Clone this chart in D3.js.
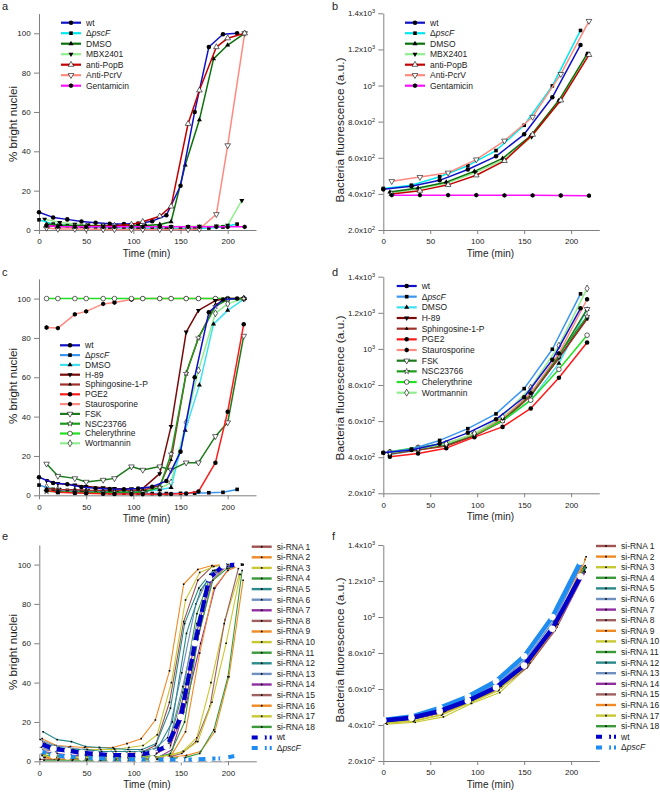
<!DOCTYPE html>
<html><head><meta charset="utf-8">
<script src="https://cdn.jsdelivr.net/npm/d3@7"></script>
<style>
body{margin:0;background:#fff}
svg text{font-family:"Liberation Sans",Arial,sans-serif;fill:#222}
</style></head>
<body><svg id="chart" width="660" height="793"></svg>
<script>
// ---------------- DATA ----------------
const X_TICKS = [0,50,100,150,200];
const PCT_TICKS = [0,20,40,60,80,100];
const FL_TICKS = [200,400,600,800,1000,1200,1400];
const FL_LABELS = [["2.0x10","2"],["4.0x10","2"],["6.0x10","2"],["8.0x10","2"],["10","3"],["1.2x10","3"],["1.4x10","3"]];

const T15 = [0,15,30,45,60,75,90,105,120,135,150,165,180,195,210];
const T30 = [0,30,60,90,120,150,180,210];

// Panel a (% bright nuclei)
const aNames = ["wt","ΔpscF","DMSO","MBX2401","anti-PopB","Anti-PcrV","Gentamicin"];
const aColors = ["#1010c8","#00e8f0","#0c700c","#90ee90","#c40000","#ff8a80","#ff10ff"];
const aMarkers = ["circle","square","tri","triDown","oTri","oTriDown","hex"];
const aT_dmso = [8,23,38,53,68,83,98,113,128,140,155,170,185,200,218];
const aT_mbx  = [6,22,38,52,68,82,98,112,128,140,158,170,188,200,215];
const aT_drug = [8,20,38,50,68,80,98,110,128,140,158,170,188,200,218];
const aV_wt   = [9,6.4,5.4,4.3,3.7,3.2,3.1,3.3,4.5,7.5,22.5,60,93,99.5,100];
const aV_pscF = [5.2,3,2.2,1.8,1.4,1.2,1,1,0.9,0.8,0.8,0.8,1,1.5,3];
const aV_dmso = [3,2.5,2.3,2.2,2.1,2,2,2.3,2.8,4.2,33,56,87,94,100];
const aV_mbx  = [5.5,3.8,3,2.6,2.3,2.1,2,2,1.9,1.8,1.8,1.9,2,2.5,15];
const aV_popb = [2,1.8,1.7,1.8,2,2.2,2.8,4.2,7,12,54,71,93,97.5,100];
const aV_pcrv = [1,0.5,0.5,0.5,0.3,0.3,0.3,0.3,0.3,0.3,0.3,0.5,8,43,100];
const aV_gent = [2.2,1.8,1.7,1.6,1.6,1.6,1.6,1.6,1.6,1.6,1.6,1.6,1.6,1.6,1.6];

// Panel b (bacteria fluorescence)
const bT_dmso = [7,37,67,97,127,157,187,217];
const bT_mbx  = [8,38,68,98,128,158,188,218];
const bT_drug = [9,39,69,99,129,159,189,219];
const bV_wt   = [425,442,475,535,608,730,935,1225];
const bV_pscF = [430,448,495,556,640,780,998,1305];
const bV_dmso = [410,432,465,525,597,722,918,1175];
const bV_mbx  = [405,428,460,518,588,716,915,1178];
const bV_popb = [400,418,450,503,583,728,918,1170];
const bV_pcrv = [470,493,517,590,694,826,1063,1357];
const bV_gent = [393,393,393,393,392,392,391,390];

// Panel c
const cNames = ["wt","ΔpscF","DMSO","H-89","Sphingosine-1-P","PGE2","Staurosporine","FSK","NSC23766","Chelerythrine","Wortmannin"];
const cColors = ["#1010c8","#3a96f0","#40e0f0","#7a0a0a","#a0302a","#ff1a1a","#ff8a80","#1e7a1e","#1c9a1c","#22e022","#90ee90"];
const cMarkers = ["circle","square","tri","triDown","smallTri","circle","hex","oTriDown","star","oCircle","oDiamond"];
const cT_dmso = [8,23,38,53,68,83,98,113,128,140,155,170,185,200,218];
const cT_drug = [8,20,38,50,68,80,98,110,128,140,156,169,187,200,217];
const cV_wt   = [9.2,6.3,5.6,4.2,3.6,3.2,3.1,3.4,4.4,7.3,22.2,60,93,99.5,100];
const cV_pscF = [5.2,3,2.5,2,1.6,1.3,1.1,1,0.9,0.9,1,1.1,1.3,1.5,3];
const cV_dmso = [3,2.6,2.4,2.2,2.1,2,2,2.2,2.8,4,33,56,87,94,100];
const cV_h89  = [7.5,6,5.2,4.5,3.8,3.5,3.3,3.5,11,35,83,94,99,100,100];
const cV_s1p  = [3.5,3,2.8,2.6,2.5,2.4,2.4,2.6,5,18,62,80,97,99.5,100];
const cV_pge2 = [2.5,1.5,1.2,1,0.8,0.7,0.6,0.6,0.5,0.7,0.9,1.9,16.6,42.5,87];
const cV_stau = [85.3,85,92,93.5,97.3,98,99.5,100,100,100,100,100,100,100,100];
const cV_fsk  = [16,9.8,8.6,6.8,7.8,8.6,14.6,12.9,14.6,12.9,16.6,16.6,30,37,81];
const cV_nsc  = [2,1.8,1.6,1.5,1.5,1.5,1.5,1.6,4,21,62,80,96,99.5,100];
const cV_chel = [100,100,100,100,100,100,100,100,100,100,100,100,100,100,100];
const cV_wort = [4.2,3,2.5,2.2,2,2,2,2,3.5,6.5,37,63.5,92.5,97.3,100];

// Panel d
const dT_drug = [7,37,67,97,127,157,187,217];
const dV_wt   = [425,440,475,535,610,732,940,1225];
const dV_pscF = [425,445,493,558,640,780,998,1305];
const dV_dmso = [415,440,470,520,600,715,920,1220];
const dV_h89  = [420,445,465,520,605,745,950,1170];
const dV_s1p  = [418,440,462,518,600,740,950,1165];
const dV_pge2 = [402,420,450,511,568,670,840,1035];
const dV_stau = [425,450,475,530,615,755,975,1275];
const dV_fsk  = [422,445,470,525,610,748,962,1220];
const dV_nsc  = [425,448,472,528,612,752,968,1180];
const dV_chel = [430,455,478,525,602,716,887,1076];
const dV_wort = [425,448,475,532,625,785,1018,1335];

// Panels e & f (siRNA screen)
const siNames = ["si-RNA 1","si-RNA 2","si-RNA 3","si-RNA 4","si-RNA 5","si-RNA 6","si-RNA 7","si-RNA 8","si-RNA 9","si-RNA 10","si-RNA 11","si-RNA 12","si-RNA 13","si-RNA 14","si-RNA 15","si-RNA 16","si-RNA 17","si-RNA 18"];
const siColors = ["#9e5252","#f08a24","#c8c832","#3a9a3a","#2a8a8a","#6f8fc0","#9030a0","#a06060","#f08a24","#c8c832","#3a9a3a","#2a8a8a","#6f8fc0","#9030a0","#a06060","#f08a24","#c8c832","#3a9a3a"];
const eOffsets = [3,3,5,2,4,1,6,3,5,2,4,6,2,4,1,6,3,5];
const eSi = [
 [10,6.5,5.5,4.5,4,4,4,4.5,8,30,71,92,99,100,100],
 [11.5,8,7.5,7,7,7,9,11.5,21,46,90,97.5,99.5,100,100],
 [8,6,6,6,6,6,7,8,13.5,40,82,96,99,100,100],
 [5,3,3,2.5,2,2,2,2,3,8,35,75,95,99,100],
 [15,11,10,7.5,7,6.5,6,6,9,27,70,88,97,99,100],
 [11,8,7,6,5,5,5,5,6,12,45,80,95,99,100],
 [3,2,2,2,1.5,1.5,1.5,1.5,2,6,30,60,88,98,100],
 [6,5,5,4,4,3,3,3,4,7,25,62,92,99,100],
 [2,1,1,1,1,1,1,1,1.5,3,15,55,88,97,100],
 [4,2,2,2,2,2,2,2,2,3,5,12,40,72,95],
 [3,2,1.5,1.5,1.5,1.5,1.5,1.5,2,4,20,65,92,98,100],
 [9,7,6,6,5,5,5,5,7,20,65,87,97,99,100],
 [7,5,5,4,4,4,4,4,5,9,38,70,93,99,100],
 [5,4,3,3,3,3,3,3,4,8,35,70,95,99,100],
 [1,1,1,1,0.5,0.5,0.5,1,1,2,4,10,28,70,98],
 [2,1,1,1,1,1,1,1,1,2,3,5,15,43,92],
 [3,2,2,2,2,2,2,2,2,3,5,10,30,60,95],
 [0.5,0.5,0.5,0.5,0.5,0.5,0.5,0.5,1,1.5,2,4,16,43,97]
];
const eV_wt   = [9,6.4,5.4,4.3,3.7,3.2,3.1,3.3,4.5,7.5,22.5,60,93,99.5,100];
const eV_pscF = [5.3,3,2.4,2,1.6,1.3,1.1,1,1,0.9,0.9,1,1.3,1.5,3];
const fOffsets = [3,3,4,2,4,1,5,3,5,2,4,6,2,4,1,6,3,5];
const fSi = [
 [418,435,470,530,600,722,930,1240],
 [420,440,478,540,615,745,955,1300],
 [405,415,445,520,580,725,950,1255],
 [422,440,475,535,612,742,960,1260],
 [425,442,480,538,615,748,965,1265],
 [428,445,485,545,625,760,975,1290],
 [420,438,472,532,605,735,945,1250],
 [415,432,468,528,598,718,925,1245],
 [422,440,478,540,618,750,968,1320],
 [410,420,455,522,590,728,948,1260],
 [425,443,480,540,620,755,972,1280],
 [428,445,485,545,628,762,978,1275],
 [430,447,488,550,632,768,985,1300],
 [420,437,473,533,608,738,950,1255],
 [418,434,468,528,600,725,935,1250],
 [422,440,476,536,612,745,960,1335],
 [412,425,460,525,595,730,952,1270],
 [424,442,478,538,615,752,970,1285]
];
const fV_wt   = [425,440,477,535,608,730,935,1225];
const fV_pscF = [428,447,495,558,643,782,1000,1307];

// ---------------- DRAWING ----------------
const svg = d3.select("#chart");
const zip = (t,v) => t.map((d,i)=>[d,v[i]]);

const hexSym = { draw(ctx,size){ const r=Math.sqrt(size/2.598); for(let i=0;i<6;i++){const a=Math.PI/3*i+Math.PI/6; const px=r*Math.cos(a), py=r*Math.sin(a); i?ctx.lineTo(px,py):ctx.moveTo(px,py);} ctx.closePath(); } };

function marker(g,type,cx,cy){
  let shape=d3.symbolCircle,size=16,fill="#000",stroke="none",rot=0,sw=0.6;
  switch(type){
    case "circle": size=16; break;
    case "square": shape=d3.symbolSquare; size=13; break;
    case "tri": shape=d3.symbolTriangle; size=11; break;
    case "smallTri": shape=d3.symbolTriangle; size=6; break;
    case "triDown": shape=d3.symbolTriangle; size=11; rot=180; break;
    case "oTri": shape=d3.symbolTriangle; size=14; fill="#fff"; stroke="#000"; break;
    case "oTriDown": shape=d3.symbolTriangle; size=14; fill="#fff"; stroke="#000"; rot=180; break;
    case "hex": shape=hexSym; size=15; break;
    case "oCircle": size=17; fill="#fff"; stroke="#000"; break;
    case "oDiamond": shape=d3.symbolDiamond; size=14; fill="#fff"; stroke="#000"; break;
    case "star": shape=d3.symbolStar; size=10; fill="#fff"; stroke="#000"; sw=0.5; break;
    case "tinySq": shape=d3.symbolSquare; size=2.6; break;
    case "white": size=34; fill="#fff"; break;
  }
  g.append("path").attr("d",d3.symbol(shape,size)())
   .attr("transform",`translate(${cx},${cy}) rotate(${rot})`)
   .attr("fill",fill).attr("stroke",stroke).attr("stroke-width",sw);
}

function labelText(sel,name,size){
  const t = sel.append("text").attr("font-size",size).attr("dy","0.35em");
  if(name==="ΔpscF"){ t.append("tspan").text("Δ"); t.append("tspan").attr("font-style","italic").text("pscF"); }
  else t.text(name);
  return t;
}

function panel(cfg){
  const g = svg.append("g");
  const x = d3.scaleLinear().domain([0,230]).range([cfg.x0, cfg.x0+cfg.xw]);
  const y = d3.scaleLinear().domain(cfg.pct?[0,110]:[200,1400]).range([cfg.yBot, cfg.yTop]);
  const xa = g.append("g").attr("transform",`translate(0,${cfg.yBot})`)
    .call(d3.axisBottom(x).tickValues(X_TICKS).tickSize(4).tickSizeOuter(0).tickPadding(4.6));
  const yAx = d3.axisLeft(y).tickValues(cfg.pct?PCT_TICKS:FL_TICKS).tickSize(5).tickSizeOuter(0).tickPadding(3.3);
  const ya = g.append("g").attr("transform",`translate(${cfg.x0},0)`).call(yAx);
  [xa,ya].forEach(a=>{
    a.selectAll("path,line").attr("stroke","#808080");
    a.selectAll("text").attr("font-size",8).attr("font-family","Liberation Sans, Arial, sans-serif").attr("fill","#333");
  });
  if(!cfg.pct){
    ya.selectAll(".tick text").each(function(d){
      const t=d3.select(this); t.text("");
      const lab = FL_LABELS[FL_TICKS.indexOf(d)];
      t.append("tspan").text(lab[0]);
      t.append("tspan").attr("font-size",5.5).attr("dy","-0.55em").text(lab[1]);
    });
  }
  g.append("text").attr("x",cfg.x0+(x(200)-cfg.x0)*0.57).attr("y",cfg.yBot+26.7).attr("text-anchor","middle")
    .attr("font-size",10).text("Time (min)");
  g.append("text").attr("transform",`translate(${cfg.ytX},${cfg.ytY}) rotate(-90)`).attr("text-anchor","middle")
    .attr("font-size",10.5).attr("textLength",cfg.pct?76:145).attr("lengthAdjust","spacingAndGlyphs")
    .text(cfg.pct?"% bright nuclei":"Bacteria fluorescence (a.u.)");
  g.append("text").attr("x",cfg.lblX).attr("y",cfg.lblY).attr("font-size",11).text(cfg.label);

  const line = d3.line().x(d=>x(d[0])).y(d=>y(d[1]));
  cfg.series.forEach(s=>{
    const pts = zip(s.t,s.v);
    g.append("path").attr("d",line(pts)).attr("fill","none").attr("stroke",s.color)
      .attr("stroke-width",s.lw||1.5).attr("stroke-dasharray",s.dash||null).attr("stroke-linejoin","round");
    pts.forEach(p=>marker(g,s.marker,x(p[0]),y(p[1])));
  });
  const L = cfg.legend;
  cfg.series.slice().sort((a,b)=>a.li-b.li).forEach((s,i)=>{
    const yy = L.y + i*L.dy;
    g.append("line").attr("x1",L.x).attr("x2",L.x+20).attr("y1",yy).attr("y2",yy)
      .attr("stroke",s.color).attr("stroke-width",s.llw||2.2).attr("stroke-dasharray",s.ldash||null);
    marker(g,s.marker,L.x+10,yy);
    labelText(g,s.name,8.5).attr("x",L.x+25).attr("y",yy);
  });
}

// ---- Panel a
const aT = [T15,T15,aT_dmso,aT_mbx,aT_drug,aT_drug,aT_drug];
const aV = [aV_wt,aV_pscF,aV_dmso,aV_mbx,aV_popb,aV_pcrv,aV_gent];
const aOrder = [3,1,2,5,0,4,6];
const aSeries = aOrder.map(i=>({name:aNames[i],color:aColors[i],marker:aMarkers[i],t:aT[i],v:aV[i],li:i}));
panel({x0:39,xw:217,yBot:230,yTop:13.6,pct:true,label:"a",lblX:2,lblY:10,ytX:17,ytY:124,
  series:aSeries, legend:{x:61,y:22.7,dy:10.5}});

// ---- Panel b
const bT = [T30,T30,bT_dmso,bT_mbx,bT_drug,bT_drug,bT_drug];
const bV = [bV_wt,bV_pscF,bV_dmso,bV_mbx,bV_popb,bV_pcrv,bV_gent];
const bSeries = aOrder.map(i=>({name:aNames[i],color:aColors[i],marker:aMarkers[i],t:bT[i],v:bV[i],li:i}));
panel({x0:383.3,xw:216,yBot:230,yTop:13.3,pct:false,label:"b",lblX:332,lblY:10,ytX:344,ytY:130,
  series:bSeries, legend:{x:405,y:22.7,dy:10.5}});

// ---- Panel c
const cT = [T15,T15,cT_dmso,cT_drug,cT_drug,cT_drug,cT_drug,cT_drug,cT_drug,cT_drug,cT_drug];
const cV = [cV_wt,cV_pscF,cV_dmso,cV_h89,cV_s1p,cV_pge2,cV_stau,cV_fsk,cV_nsc,cV_chel,cV_wort];
const cOrder = [6,9,10,2,1,3,4,7,8,5,0];
const cSeries = cOrder.map(i=>({name:cNames[i],color:cColors[i],marker:cMarkers[i],t:cT[i],v:cV[i],li:i}));
panel({x0:39,xw:217,yBot:495.3,yTop:278.9,pct:true,label:"c",lblX:2,lblY:276,ytX:17,ytY:386,
  series:cSeries, legend:{x:60,y:345.3,dy:9.8}});

// ---- Panel d
const dT = [T30,T30,dT_drug,dT_drug,dT_drug,dT_drug,dT_drug,dT_drug,dT_drug,dT_drug,dT_drug];
const dV = [dV_wt,dV_pscF,dV_dmso,dV_h89,dV_s1p,dV_pge2,dV_stau,dV_fsk,dV_nsc,dV_chel,dV_wort];
const dOrder = [2,3,4,7,8,9,5,6,10,1,0];
const dSeries = dOrder.map(i=>({name:cNames[i],color:cColors[i],marker:cMarkers[i],t:dT[i],v:dV[i],li:i}));
panel({x0:383.3,xw:216,yBot:493.3,yTop:276.7,pct:false,label:"d",lblX:332,lblY:276,ytX:344,ytY:388,
  series:dSeries, legend:{x:396.7,y:286,dy:10.67}});

// ---- Panel e
const eSeries = siNames.map((n,i)=>({name:n,color:siColors[i],marker:"tinySq",lw:1.1,llw:2.4,
  t:T15.map(t=>t+eOffsets[i]),v:eSi[i],li:i}));
eSeries.push({name:"ΔpscF",color:"#1e8cf0",marker:"white",lw:4,llw:4,dash:"7,3",ldash:"6,3",t:T15,v:eV_pscF,li:19});
eSeries.push({name:"wt",color:"#0000c8",marker:"white",lw:4.2,llw:4,dash:"12,3",ldash:"6,3",t:T15,v:eV_wt,li:18});
panel({x0:39.3,xw:217,yBot:761.3,yTop:544.9,pct:true,label:"e",lblX:2,lblY:540,ytX:17,ytY:652,
  series:eSeries, legend:{x:251.7,y:546.7,dy:10.6}});

// ---- Panel f
const fSeries = siNames.map((n,i)=>({name:n,color:siColors[i],marker:"tinySq",lw:1.1,llw:2.4,
  t:T30.map(t=>t+fOffsets[i]),v:fSi[i],li:i}));
fSeries.push({name:"ΔpscF",color:"#1e8cf0",marker:"white",lw:4.5,llw:4,ldash:"6,3",t:T30,v:fV_pscF,li:19});
fSeries.push({name:"wt",color:"#0000c8",marker:"white",lw:4.5,llw:4,ldash:"6,3",t:T30,v:fV_wt,li:18});
panel({x0:383.3,xw:216,yBot:761,yTop:545,pct:false,label:"f",lblX:332,lblY:540,ytX:344,ytY:650,
  series:fSeries, legend:{x:596,y:546,dy:10.6}});
</script></body></html>
